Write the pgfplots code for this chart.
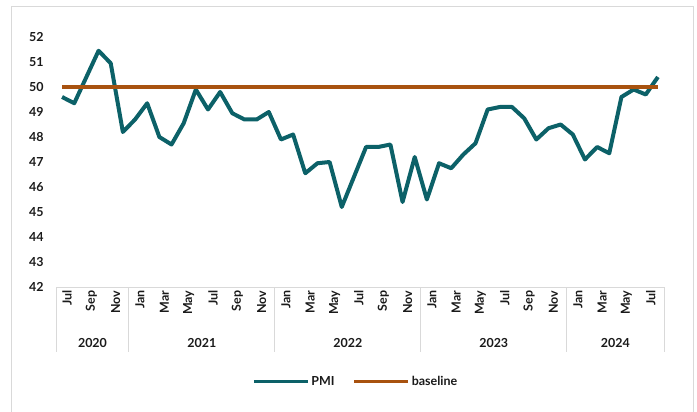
\documentclass[border=0pt]{standalone}
\usepackage{pgfplots}
\pgfplotsset{compat=1.18}
\usepackage{fontspec}
\setmainfont{Lato}
\definecolor{pmiteal}{HTML}{0C6168}
\definecolor{basebrown}{HTML}{A8520F}
\definecolor{txt}{HTML}{1A1A1A}
\definecolor{sepgray}{HTML}{D9D9D9}
\begin{document}
\begin{tikzpicture}
\path[use as bounding box] (0,0) rectangle (697bp,412bp);
\draw[sepgray, line width=1bp] (11.7bp,-2bp) rectangle (693bp,405.5bp);
\begin{axis}[
  at={(56bp,125bp)}, anchor=south west,
  scale only axis, width=608bp, height=250bp,
  xmin=-0.5, xmax=49.5, ymin=42, ymax=52,
  axis x line*=bottom, axis y line*=left,
  x axis line style={-, draw=sepgray, line width=1bp},
  y axis line style={draw=none},
  ytick={42,43,...,52},
  ytick style={draw=none},
  xtick={0,2,...,48},
  xticklabels={Jul,Sep,Nov,Jan,Mar,May,Jul,Sep,Nov,Jan,Mar,May,Jul,Sep,Nov,Jan,Mar,May,Jul,Sep,Nov,Jan,Mar,May,Jul},
  xtick style={draw=none},
  major tick length=0pt,
  /pgf/number format/assume math mode=true,
  tick label style={font=\fontsize{12.5}{14}\selectfont\bfseries, text=txt},
  yticklabel style={anchor=east, xshift=-9bp},
  xticklabel style={rotate=90, anchor=east, yshift=-5bp},
  legend style={at={(0.493,-0.379)}, anchor=center, draw=none, fill=none,
    legend columns=2, font=\fontsize{12.5}{14}\selectfont\bfseries, text=txt,
    /tikz/every even column/.append style={column sep=16bp}},
  legend image code/.code={\draw[#1, line width=3.2bp] (0bp,0bp) -- (54bp,0bp);},
  clip=false,
]
\addplot[pmiteal, line width=4bp, line join=round] coordinates {
(0,49.6) (1,49.35) (2,50.4) (3,51.45) (4,50.95) (5,48.2)
(6,48.7) (7,49.35) (8,48.0) (9,47.7) (10,48.55) (11,49.9)
(12,49.1) (13,49.8) (14,48.95) (15,48.7) (16,48.7) (17,49.0)
(18,47.9) (19,48.1) (20,46.55) (21,46.95) (22,47.0) (23,45.2)
(24,46.4) (25,47.6) (26,47.6) (27,47.7) (28,45.4) (29,47.2)
(30,45.5) (31,46.95) (32,46.75) (33,47.3) (34,47.75) (35,49.1)
(36,49.2) (37,49.2) (38,48.75) (39,47.9) (40,48.35) (41,48.5)
(42,48.1) (43,47.1) (44,47.6) (45,47.35) (46,49.6) (47,49.9)
(48,49.7) (49,50.4)
};
\addlegendentry{PMI}
\addplot[basebrown, line width=4bp] coordinates {(0,50) (49,50)};
\addlegendentry{baseline}
\foreach \x in {-0.5,5.5,17.5,29.5,41.5,49.5}{
  \edef\tmp{\noexpand\draw[sepgray, line width=1bp] (axis cs:\x,42) -- ([yshift=-64.5bp]axis cs:\x,42);}
  \tmp
}
\foreach \x/\yr in {2.5/2020,11.5/2021,23.5/2022,35.5/2023,45.5/2024}{
  \edef\tmp{\noexpand\node[font=\noexpand\fontsize{12.5}{14}\noexpand\selectfont\noexpand\bfseries, text=txt] at (axis cs:\x,42) [yshift=-55.5bp] {\yr};}
  \tmp
}
\end{axis}
\end{tikzpicture}
\end{document}
